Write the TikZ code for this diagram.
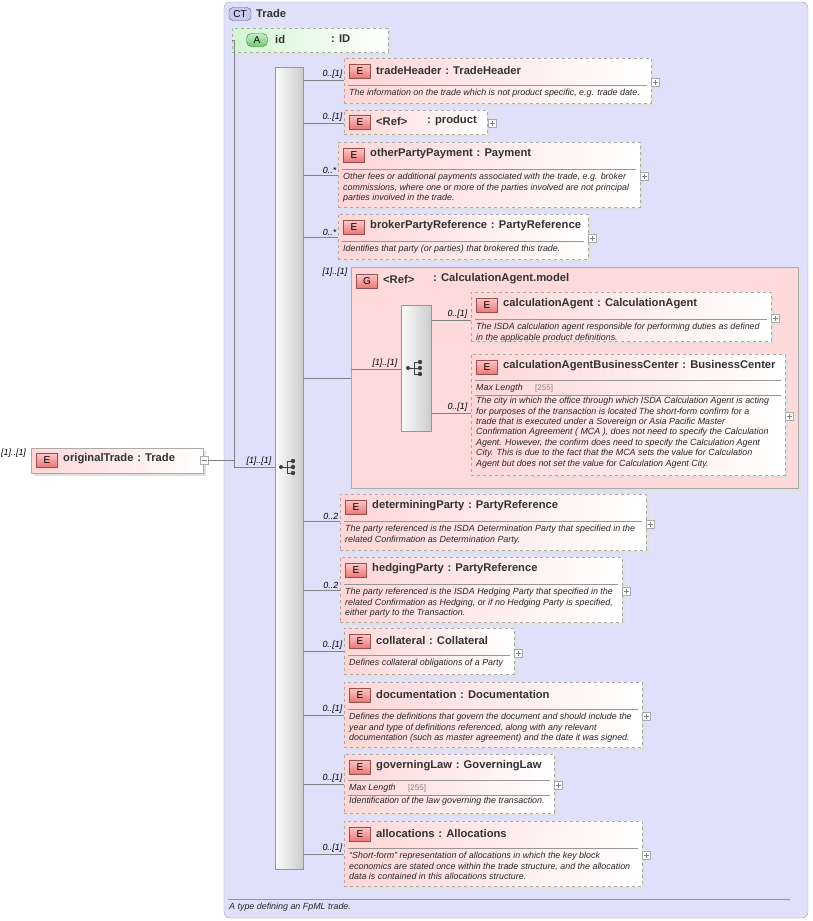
\documentclass[tikz,border=0pt]{standalone}
\usepackage{fontspec}
\setmainfont{Liberation Sans}
\begin{document}
\begin{tikzpicture}[x=1pt,y=-1pt,
  elem/.style={draw={rgb,255:red,170;green,170;blue,170},dashed,left color={rgb,255:red,255;green,214;blue,214},right color=white,shading angle=90,inner sep=0pt},
  badge/.style={draw={rgb,255:red,150;green,80;blue,80},top color={rgb,255:red,255;green,200;blue,200},bottom color={rgb,255:red,235;green,120;blue,120},minimum width=21pt,minimum height=14pt,inner sep=0pt,font=\fontsize{10}{10}\selectfont},
  ttl/.style={anchor=west,inner sep=0pt,font=\fontsize{11.2}{12}\selectfont\bfseries,text={rgb,255:red,50;green,50;blue,50}},
  dsc/.style={anchor=north west,inner sep=0pt,align=left,font=\fontsize{8.9}{10.4}\selectfont\itshape,text={rgb,255:red,40;green,40;blue,40}},
  mul/.style={anchor=south east,inner sep=1.5pt,font=\fontsize{8.9}{9}\selectfont\itshape},
  conn/.style={draw={rgb,255:red,130;green,130;blue,130},line width=0.6pt},
  sep/.style={draw={rgb,255:red,150;green,150;blue,150},line width=0.6pt},
  plusb/.style={draw={rgb,255:red,170;green,170;blue,170},fill=white,minimum size=8pt,inner sep=0pt},
  seqbar/.style={draw={rgb,255:red,150;green,150;blue,150},left color={rgb,255:red,250;green,250;blue,250},right color={rgb,255:red,205;green,205;blue,205},inner sep=0pt}]
\useasboundingbox (0,0) rectangle (813,921);
\newcommand\plusat[2]{\node[plusb] at (#1,#2) {}; \draw[gray,line width=0.4pt] (#1-2.5,#2) -- (#1+2.5,#2) (#1,#2-2.5) -- (#1,#2+2.5);}
\newcommand\seqicon[2]{%
  \fill[black!75] (#1-6,#2) circle (2);
  \draw[black!75,line width=0.9pt] (#1-6,#2) -- (#1,#2) (#1,#2-6) -- (#1,#2+6) (#1,#2-6) -- (#1+6,#2-6) (#1,#2+6) -- (#1+6,#2+6) (#1,#2) -- (#1+6,#2);
  \fill[black!75] (#1+6,#2-6) circle (2.2) (#1+6,#2) circle (2.2) (#1+6,#2+6) circle (2.2);}
\newcommand\EL[7]{%
  \fill[black!12] (#2+3,#3+3) rectangle (#4+3,#5+3);
  \node[elem,minimum width=#4-#2,minimum height=#5-#3,anchor=north west] (#1) at (#2,#3) {};
  \node[badge] at (#2+16,#3+13) {E};
  \node[ttl] at (#2+32,#3+12) {#6};
  \draw[sep] (#2+4,#3+27) -- (#4-4,#3+27);
  \node[dsc] at (#2+5,#3+31) {#7};
  \plusat{#4+4}{#3/2+#5/2+2}}
\newcommand\ELM[7]{%
  \fill[black!12] (#2+3,#3+3) rectangle (#4+3,#5+3);
  \node[elem,minimum width=#4-#2,minimum height=#5-#3,anchor=north west] (#1) at (#2,#3) {};
  \node[badge] at (#2+16,#3+13) {E};
  \node[ttl] at (#2+32,#3+12) {#6};
  \draw[sep] (#2+4,#3+26) -- (#4-4,#3+26);
  \node[dsc,anchor=west] at (#2+5,#3+34) {Max Length};
  \node[dsc,anchor=west,font=\fontsize{8}{8}\selectfont,text=gray] at (#2+64,#3+34) {[255]};
  \draw[sep] (#2+4,#3+41) -- (#4-4,#3+41);
  \node[dsc] at (#2+5,#3+43) {#7};
  \plusat{#4+4}{#3/2+#5/2+2}}
% complex type box
\draw[draw={rgb,255:red,160;green,160;blue,170},fill={rgb,255:red,224;green,224;blue,250},rounded corners=6pt] (224,2) rectangle (808,918);
\node[draw={rgb,255:red,90;green,90;blue,140},fill={rgb,255:red,200;green,200;blue,240},rounded corners=4pt,minimum width=22pt,minimum height=13pt,inner sep=0pt,font=\fontsize{10}{10}\selectfont] (ct) at (240,14) {CT};
\node[ttl] (cttitle) at (256,13) {Trade};
\draw[sep] (228,899) -- (790,899);
\node[dsc,anchor=west] (ctdoc) at (229,907) {A type defining an FpML trade.};
% attribute
\fill[black!12] (235,31) rectangle (391,55);
\node[draw={rgb,255:red,170;green,170;blue,170},dashed,left color={rgb,255:red,210;green,245;blue,210},right color=white,shading angle=90,minimum width=156pt,minimum height=24pt,anchor=north west,inner sep=0pt] (id) at (232,28) {};
\node[draw={rgb,255:red,60;green,120;blue,60},top color={rgb,255:red,200;green,240;blue,200},bottom color={rgb,255:red,110;green,200;blue,110},minimum width=21pt,minimum height=13pt,inner sep=0pt,rounded corners=5pt,font=\fontsize{10}{10}\selectfont] (idb) at (257,40) {A};
\node[ttl] (idt) at (275,39) {id};
\node[ttl] (idt2) at (331,39) {: ID};
% originalTrade
\fill[black!12] (34,451) rectangle (206,476);
\node[draw={rgb,255:red,170;green,170;blue,170},left color={rgb,255:red,255;green,214;blue,214},right color=white,shading angle=90,minimum width=172pt,minimum height=25pt,anchor=north west,inner sep=0pt] (ot) at (31,448) {};
\node[badge] at (47,460) {E};
\node[ttl] at (63,459) {originalTrade\,\,: Trade};
\node[mul,anchor=west,inner sep=0pt] at (1,453) {[1]..[1]};
\node[plusb] (otm) at (204,460) {}; \draw[gray,line width=0.4pt] (201.5,460) -- (206.5,460);
% main sequence
\node[seqbar,minimum width=28pt,minimum height=802pt,anchor=north west] (seq) at (275,67) {};
\seqicon{287}{467}
\coordinate (jn) at (234,460);
\draw[conn] (otm.east) -- (jn) |- (id.west);
\draw[conn] (jn) -- (234,467) -- (seq.west |- 0,467);
\node[mul] at (273,467) {[1]..[1]};
% children
\EL{th}{344}{58}{651}{103}{tradeHeader\,\,: TradeHeader}{The information on the trade which is not product specific, e.g. trade date.}
\fill[black!12] (347,113) rectangle (490,137);
\node[elem,minimum width=143pt,minimum height=24pt,anchor=north west] (pr) at (344,110) {};
\node[badge] at (360,122) {E};
\node[ttl] at (376,121) {<Ref>};
\node[ttl] at (427,121) {: product};
\plusat{492}{123}
\EL{opp}{338}{142}{640}{207}{otherPartyPayment\,\,: Payment}{Other fees or additional payments associated with the trade, e.g. broker\\commissions, where one or more of the parties involved are not principal\\parties involved in the trade.}
\EL{bpr}{338}{214}{588}{259}{brokerPartyReference\,\,: PartyReference}{Identifies that party (or parties) that brokered this trade.}
% group
\fill[black!12] (354,270) rectangle (801,491);
\node[draw={rgb,255:red,170;green,170;blue,170},fill={rgb,255:red,255;green,218;blue,218},minimum width=447pt,minimum height=221pt,anchor=north west,inner sep=0pt] (grp) at (351,267) {};
\node[badge] at (367,281) {G};
\node[ttl] at (383,279) {<Ref>};
\node[ttl] at (433,279) {: CalculationAgent.model};
\node[seqbar,minimum width=30pt,minimum height=126pt,anchor=north west] (seq2) at (401,305) {};
\seqicon{414}{368}
\EL{ca}{471}{292}{771}{341}{calculationAgent\,\,: CalculationAgent}{The ISDA calculation agent responsible for performing duties as defined\\in the applicable product definitions.}
\ELM{cabc}{471}{354}{785}{475}{calculationAgentBusinessCenter\,\,: BusinessCenter}{The city in which the office through which ISDA Calculation Agent is acting\\for purposes of the transaction is located The short-form confirm for a\\trade that is executed under a Sovereign or Asia Pacific Master\\Confirmation Agreement ( MCA ), does not need to specify the Calculation\\Agent. However, the confirm does need to specify the Calculation Agent\\City. This is due to the fact that the MCA sets the value for Calculation\\Agent but does not set the value for Calculation Agent City.}
\EL{dp}{340}{494}{646}{550}{determiningParty\,\,: PartyReference}{The party referenced is the ISDA Determination Party that specified in the\\related Confirmation as Determination Party.}
\EL{hp}{340}{557}{622}{622}{hedgingParty\,\,: PartyReference}{The party referenced is the ISDA Hedging Party that specified in the\\related Confirmation as Hedging, or if no Hedging Party is specified,\\either party to the Transaction.}
\EL{col}{344}{628}{514}{674}{collateral\,\,: Collateral}{Defines collateral obligations of a Party}
\EL{doc}{344}{682}{642}{747}{documentation\,\,: Documentation}{Defines the definitions that govern the document and should include the\\year and type of definitions referenced, along with any relevant\\documentation (such as master agreement) and the date it was signed.}
\ELM{gl}{344}{754}{554}{813}{governingLaw\,\,: GoverningLaw}{Identification of the law governing the transaction.}
\EL{al}{344}{821}{642}{886}{allocations\,\,: Allocations}{``Short-form'' representation of allocations in which the key block\\economics are stated once within the trade structure, and the allocation\\data is contained in this allocations structure.}
% connectors
\foreach \n/\y/\m in {th/80/{0..[1]},pr/123/{0..[1]},opp/175/{0..*},bpr/237/{0..*},dp/521/{0..2},hp/590/{0..2},col/651/{0..[1]},doc/715/{0..[1]},gl/784/{0..[1]},al/854/{0..[1]}}{
  \draw[conn] (seq.east |- 0,\y) -- (\n.west |- 0,\y);
  \node[mul] at (\n.west |- 0,\y) {\m};}
\draw[conn] (seq.east |- 0,378) -- (grp.west |- 0,378);
\node[mul] at (349,278) {[1]..[1]};
\draw[conn] (grp.west |- 0,369) -- (seq2.west |- 0,369);
\node[mul] at (399,369) {[1]..[1]};
\draw[conn] (seq2.east |- 0,320) -- (ca.west |- 0,320);
\node[mul] at (469,320) {0..[1]};
\draw[conn] (seq2.east |- 0,413) -- (cabc.west |- 0,413);
\node[mul] at (469,413) {0..[1]};
\end{tikzpicture}
\end{document}
